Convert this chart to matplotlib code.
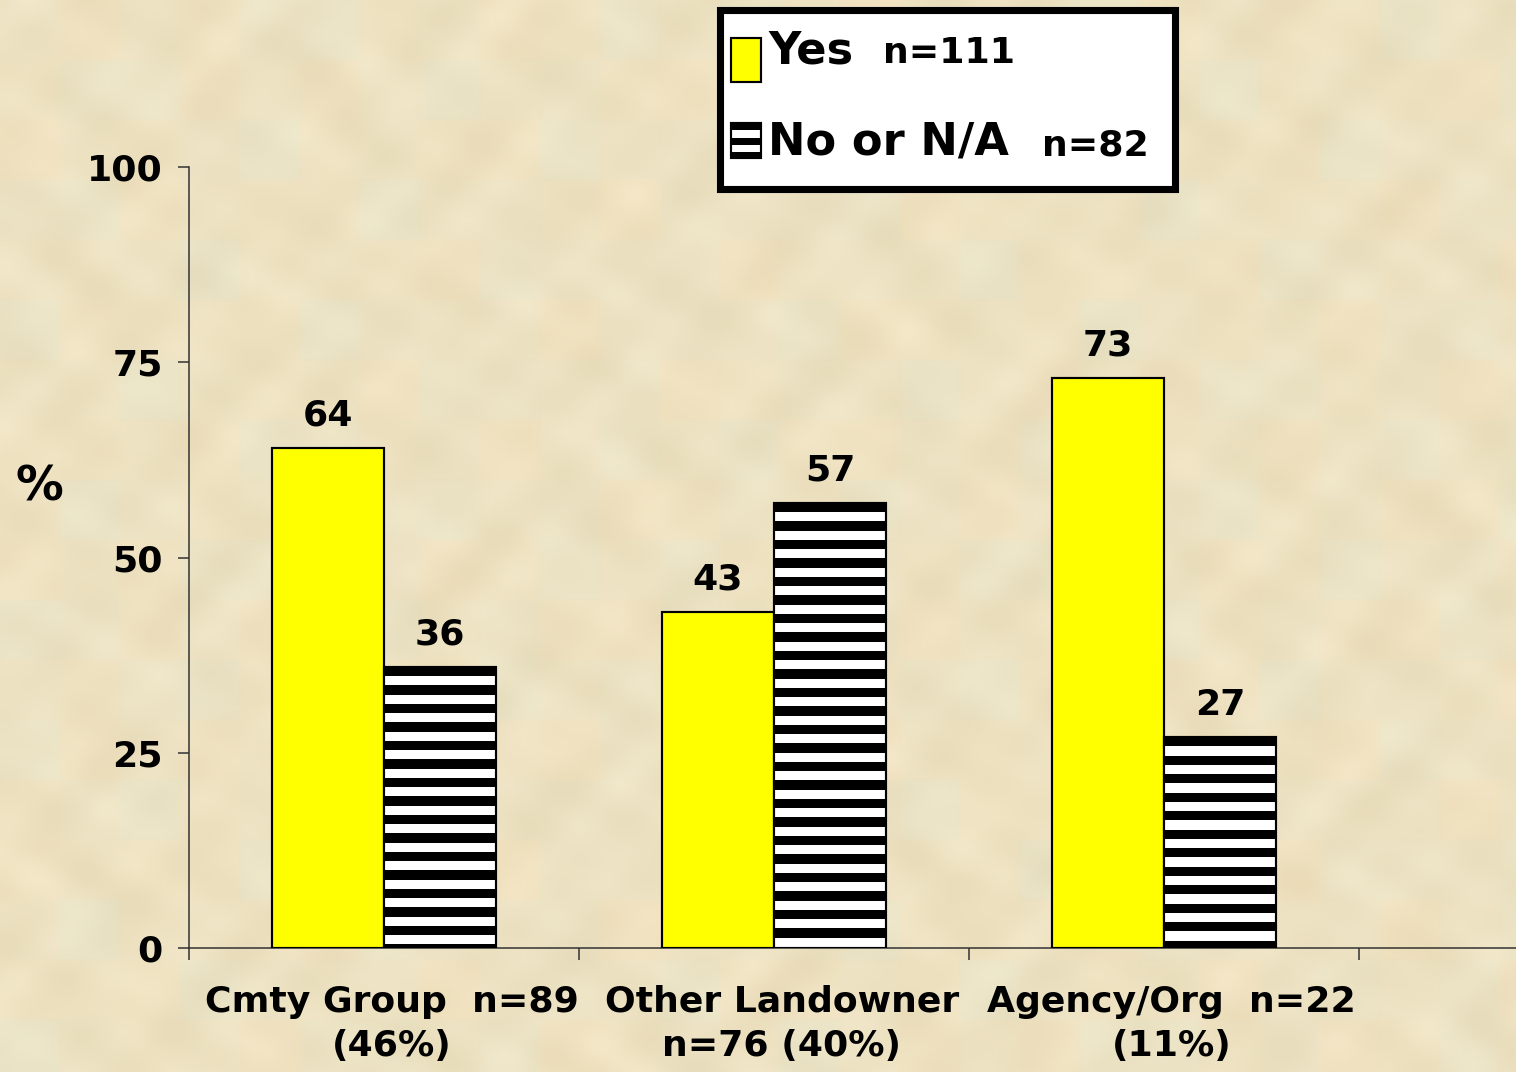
import numpy as np
import matplotlib
matplotlib.use("Agg")
import matplotlib.pyplot as plt
from matplotlib.patches import Rectangle

# survey answers by respondent type (percent of each group)
groups = ["Cmty Group  n=89\n(46%)", "Other Landowner\nn=76 (40%)", "Agency/Org  n=22\n(11%)"]
yes_pct = [64, 43, 73]
no_pct = [36, 57, 27]
y_ticks = [0, 25, 50, 75, 100]
yes_label, yes_n = "Yes", "n=111"
no_label, no_n = "No or N/A", "n=82"

W, H, DPI = 1516, 1072, 111
plt.rcParams["font.family"] = ["DejaVu Sans"]
plt.rcParams["font.weight"] = "bold"

fig = plt.figure(figsize=(W / DPI, H / DPI), dpi=DPI)

# parchment backdrop
bg = fig.add_axes([0, 0, 1, 1], zorder=-5)
h, w = 268, 379
yy, xx = np.mgrid[0:h, 0:w].astype(float)
noise = (np.sin(xx * 0.21 + 2.0 * np.sin(yy * 0.13))
         + np.sin(yy * 0.17 + 2.5 * np.cos(xx * 0.09))
         + 0.6 * np.sin((xx + yy) * 0.31)
         + 0.5 * np.sin((xx - 2 * yy) * 0.23))
noise /= np.abs(noise).max()
bx, by = xx // 15, yy // 15
tint = np.sin(bx * 1.7 + by * 2.3) * np.cos(bx * 0.7 - by * 1.3)
base = np.array([237, 226, 194], float)
rgb = base + noise[..., None] * np.array([5, 6, 8]) + tint[..., None] * np.array([3, -1, -3])
bg.imshow(np.clip(rgb, 0, 255).astype(np.uint8), aspect="auto", interpolation="bilinear")
bg.axis("off")

ax_h_px = 781
ax = fig.add_axes([189 / W, 124 / H, 1 - 189 / W, ax_h_px / H])
ax.set_facecolor("none")
ax.set_ylim(0, 100)
ax.set_xlim(-0.5, (W - 189) / 390 - 0.5)

x = np.arange(len(groups))
bw = 0.287
ax.bar(x - bw / 2, yes_pct, bw, color="#FFFF00", edgecolor="black", linewidth=1.4, zorder=3)
no_bars = ax.bar(x + bw / 2, no_pct, bw, color="white", edgecolor="none", zorder=3)

# horizontal black/white banding, starting with a black band at the bar top
px = 100 / ax_h_px
period, band = 18.5 * px, 9.3 * px
for b in no_bars:
    top = b.get_height()
    offs = np.arange(0, top, period)
    lows = np.clip(top - offs - band, 0, None)
    ax.bar(np.full(offs.size, b.get_x() + b.get_width() / 2), (top - offs) - lows, b.get_width(),
           bottom=lows, color="black", linewidth=0, zorder=3.2)
ax.bar(x + bw / 2, no_pct, bw, fill=False, edgecolor="black", linewidth=1.4, zorder=3.4)

for xs, vals in ((x - bw / 2, yes_pct), (x + bw / 2, no_pct)):
    for xc, v in zip(xs, vals):
        ax.annotate(str(v), (xc, v), xytext=(0, 10), textcoords="offset points",
                    ha="center", va="bottom", fontsize=23.5, fontweight="bold", color="black")

ax.set_yticks(y_ticks)
ax.set_yticklabels([str(t) for t in y_ticks], fontsize=23.5, fontweight="bold")
ax.tick_params(axis="y", direction="out", length=7, width=1, color="#333333", pad=10)

# boundary ticks as major, group names as minor labels
ax.set_xticks([-0.5, 0.5, 1.5, 2.5])
ax.set_xticklabels([])
ax.tick_params(axis="x", which="major", direction="out", length=8, width=1, color="#333333")
ax.set_xticks(x + 0.02, minor=True)
ax.set_xticklabels(groups, minor=True, fontsize=23.5, fontweight="bold", linespacing=1.36)
ax.tick_params(axis="x", which="minor", length=0, pad=24)

for side in ("top", "right"):
    ax.spines[side].set_visible(False)
for side in ("left", "bottom"):
    ax.spines[side].set_color("#333333")
    ax.spines[side].set_linewidth(1.0)

fig.text(39 / W, 1 - 487 / H, "%", ha="center", va="center", fontsize=31, fontweight="bold")


def fig_rect(x0, y0, x1, y1, **kw):
    # rectangle given in pixel coords measured from the top-left corner
    r = Rectangle((x0 / W, 1 - y1 / H), (x1 - x0) / W, (y1 - y0) / H, transform=fig.transFigure, **kw)
    fig.patches.append(r)
    return r


# legend box drawn by hand (mixed font sizes)
fig_rect(719.5, 9.5, 1174.5, 188.5, facecolor="white", edgecolor="black", linewidth=4.6, zorder=5)
fig_rect(731, 38, 761, 82, facecolor="#FFFF00", edgecolor="black", linewidth=1.4, zorder=6)
fig_rect(731, 123, 761, 158, facecolor="white", edgecolor="none", zorder=6)
for y0 in (123, 137.5, 152):
    fig_rect(731, y0, 761, min(y0 + 7, 158), facecolor="black", edgecolor="none", zorder=6.2)
fig_rect(731, 123, 761, 158, fill=False, edgecolor="black", linewidth=1.4, zorder=6.4)

fig.text(768 / W, 1 - 63 / H, yes_label, ha="left", va="baseline", fontsize=29, fontweight="bold", zorder=7)
fig.text(883 / W, 1 - 63 / H, yes_n, ha="left", va="baseline", fontsize=23.5, fontweight="bold", zorder=7)
fig.text(768 / W, 1 - 155 / H, no_label, ha="left", va="baseline", fontsize=29, fontweight="bold", zorder=7)
fig.text(1042 / W, 1 - 155 / H, no_n, ha="left", va="baseline", fontsize=23.5, fontweight="bold", zorder=7)

fig.savefig("out.png", dpi=DPI)
